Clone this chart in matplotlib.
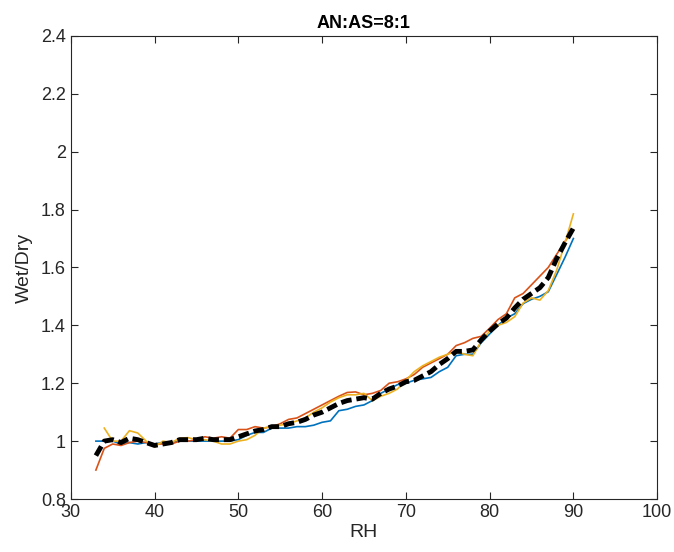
import numpy as np
import matplotlib
matplotlib.use("Agg")
import matplotlib.pyplot as plt
from matplotlib.ticker import FormatStrFormatter

plt.rcParams['font.family'] = ['Liberation Sans', 'DejaVu Sans']

rh = list(range(33, 91))

blue = [1.00, 1.00, 1.00, 0.99, 0.995, 0.99, 0.995, 0.99, 0.995, 0.995,
        1.00, 1.00, 1.00, 1.00, 1.00, 1.00, 1.00, 1.005, 1.02, 1.03,
        1.03, 1.045, 1.045, 1.045, 1.05, 1.05, 1.055, 1.065, 1.07, 1.105,
        1.11, 1.12, 1.125, 1.14, 1.165, 1.18, 1.195, 1.20, 1.21, 1.215,
        1.22, 1.24, 1.255, 1.295, 1.30, 1.30, 1.34, 1.37, 1.40, 1.425,
        1.44, 1.475, 1.49, 1.50, 1.516, 1.575, 1.635, 1.70]

red = [0.90, 0.975, 0.99, 0.985, 0.995, 1.00, 0.995, 0.99, 0.99, 0.99,
       1.00, 1.00, 1.005, 1.015, 1.01, 1.015, 1.01, 1.04, 1.04, 1.05,
       1.045, 1.05, 1.06, 1.075, 1.08, 1.095, 1.11, 1.125, 1.14, 1.155,
       1.168, 1.17, 1.16, 1.165, 1.175, 1.20, 1.205, 1.215, 1.23, 1.255,
       1.27, 1.285, 1.30, 1.33, 1.34, 1.355, 1.362, 1.39, 1.42, 1.44,
       1.495, 1.51, 1.54, 1.57, 1.60, 1.645, 1.69, 1.73]

yellow = [np.nan, 1.045, 1.00, 1.00, 1.036, 1.028, 1.00, 0.98, 1.00, 0.995,
          1.01, 1.012, 1.005, 1.005, 1.00, 0.99, 0.99, 1.00, 1.005, 1.02,
          1.045, 1.05, 1.055, 1.06, 1.07, 1.08, 1.10, 1.115, 1.135, 1.15,
          1.16, 1.16, 1.165, 1.14, 1.155, 1.165, 1.18, 1.21, 1.24, 1.26,
          1.275, 1.29, 1.30, 1.31, 1.30, 1.295, 1.345, 1.38, 1.40, 1.41,
          1.43, 1.477, 1.495, 1.487, 1.52, 1.59, 1.685, 1.785]

mean = [0.95, 1.00, 1.005, 0.995, 1.01, 1.005, 0.995, 0.985, 0.99, 0.995,
        1.005, 1.005, 1.005, 1.01, 1.005, 1.005, 1.005, 1.015, 1.025, 1.035,
        1.04, 1.05, 1.05, 1.06, 1.065, 1.075, 1.09, 1.10, 1.115, 1.13,
        1.14, 1.145, 1.15, 1.145, 1.165, 1.18, 1.19, 1.205, 1.21, 1.225,
        1.24, 1.265, 1.285, 1.31, 1.31, 1.315, 1.35, 1.38, 1.405, 1.425,
        1.46, 1.49, 1.51, 1.53, 1.565, 1.63, 1.685, 1.736]

fig = plt.figure(figsize=(6.74, 5.52), dpi=100)
ax = fig.add_axes([0.105, 0.096, 0.870, 0.839])

ax.plot(rh, blue, color='#0072BD', lw=1.2)
ax.plot(rh, red, color='#D95319', lw=1.2)
ax.plot(rh, yellow, color='#EDB120', lw=1.2)
ax.plot(rh, mean, color='black', lw=3.5, linestyle=(0, (2.2, 1.0)))

ax.set_xlim(30, 100)
ax.set_ylim(0.8, 2.4)
ax.set_xticks(range(30, 101, 10))
ax.set_yticks(np.arange(0.8, 2.41, 0.2))
ax.yaxis.set_major_formatter(FormatStrFormatter('%g'))

edge = '#262626'
for s in ax.spines.values():
    s.set_color(edge)
    s.set_linewidth(0.8)
ax.tick_params(direction='in', top=True, right=True, length=5,
               color=edge, labelcolor=edge, labelsize=13, width=0.8)

ax.set_xlabel('RH', fontsize=14, color=edge, labelpad=2)
ax.set_ylabel('Wet/Dry', fontsize=14, color=edge, labelpad=6)
ax.set_title('AN:AS=8:1', fontsize=13, fontweight='bold', color='black', pad=6)

fig.savefig('out.png', dpi=100)
